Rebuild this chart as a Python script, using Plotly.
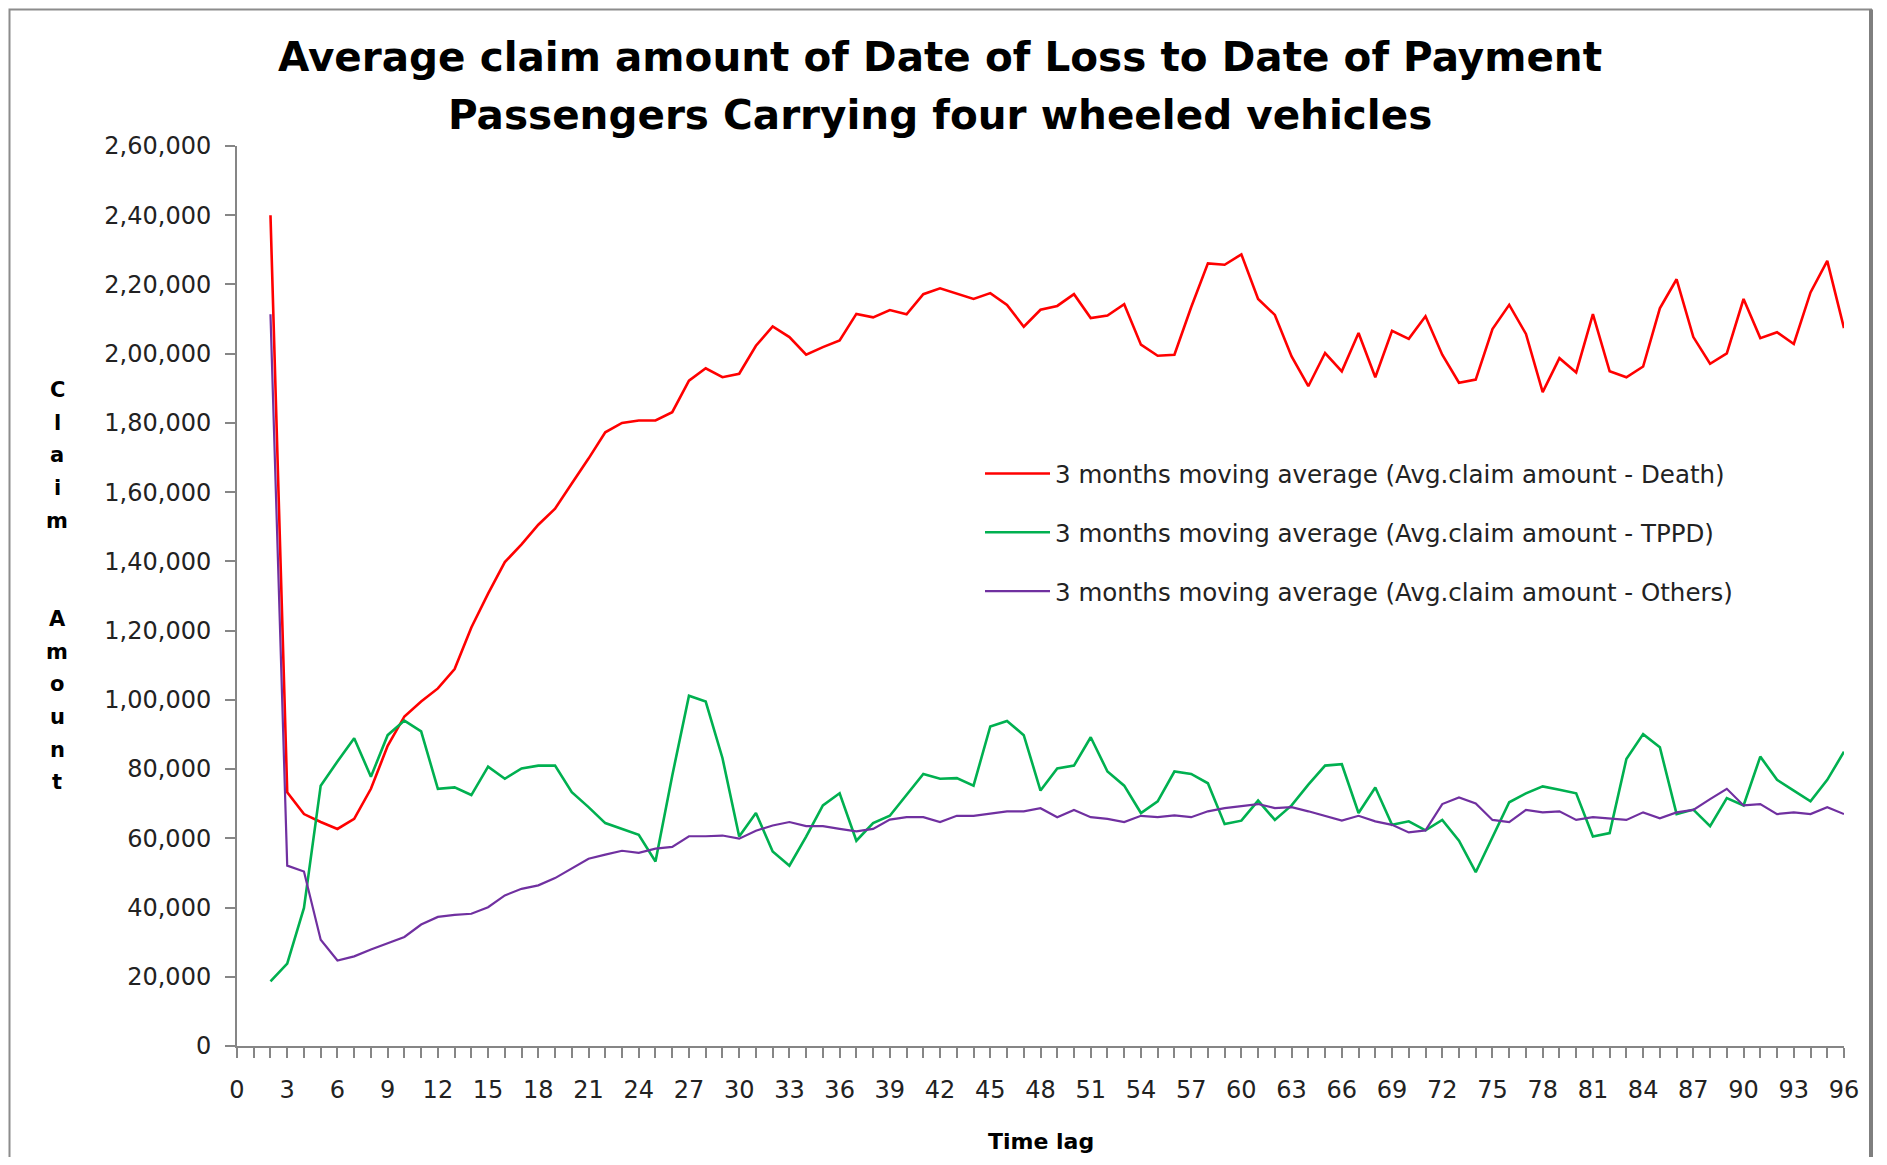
import plotly.graph_objects as go

# ---------------- data ----------------
time_lag = list(range(2, 97))

death = [240000, 73300, 67000, 64700, 62700, 65600, 74300, 86700, 95200, 99500,
         103300, 108900, 120900, 130700, 139800, 144900, 150600, 155200, 162500, 169700,
         177300, 180000, 180700, 180700, 183100, 192200, 195800, 193200, 194200, 202300,
         207900, 204800, 199700, 201900, 203800, 211500, 210500, 212600, 211400, 217200,
         218900, 217400, 215800, 217500, 214100, 207800, 212700, 213800, 217200, 210300,
         211000, 214300, 202600, 199400, 199700, 213400, 226100, 225700, 228700, 215800,
         211200, 199200, 190600, 200200, 194900, 206000, 193200, 206600, 204300, 210800,
         199700, 191600, 192500, 207100, 214100, 205700, 188900, 198700, 194600, 211400,
         194900, 193200, 196300, 213100, 221500, 204800, 197100, 200100, 215800, 204500,
         206200, 202800, 217700, 226800, 207400]

tppd = [18700, 23800, 39900, 75200, 82200, 88900, 77800, 89800, 94000, 90900,
        74300, 74700, 72500, 80700, 77200, 80200, 81000, 81000, 73300, 69000,
        64400, 62700, 61000, 53300, 78100, 101200, 99500, 83200, 60500, 67300,
        56200, 52100, 60500, 69500, 73000, 59300, 64400, 66500, 72600, 78600,
        77200, 77400, 75200, 92300, 93900, 89800, 73800, 80200, 81000, 89200,
        79300, 75200, 67300, 70700, 79300, 78600, 75900, 64100, 65100, 70900,
        65300, 69500, 75500, 81000, 81400, 67300, 74700, 63900, 64900, 62300,
        65300, 59300, 50200, 60500, 70400, 73000, 75000, 74000, 73000, 60500,
        61500, 82900, 90100, 86300, 67000, 68300, 63500, 71600, 69500, 83600,
        76900, 73800, 70700, 76900, 85000]

others = [211400, 52100, 50400, 30700, 24700, 25900, 27900, 29800, 31500, 35100,
          37300, 37900, 38200, 40100, 43500, 45400, 46400, 48500, 51200, 54100,
          55300, 56400, 55800, 57000, 57500, 60600, 60600, 60800, 59900, 62200,
          63700, 64700, 63500, 63500, 62700, 62000, 62700, 65400, 66100, 66100,
          64700, 66500, 66500, 67100, 67800, 67800, 68700, 66100, 68200, 66100,
          65600, 64700, 66500, 66100, 66600, 66100, 67800, 68700, 69400, 69900,
          68700, 69000, 67800, 66500, 65100, 66500, 64900, 63900, 61700, 62300,
          69900, 71800, 70100, 65300, 64700, 68200, 67500, 67800, 65300, 66100,
          65600, 65300, 67500, 65800, 67500, 68200, 71300, 74300, 69500, 69900,
          67000, 67500, 67000, 69000, 67000]

series_names = ["3 months moving average (Avg.claim amount - Death)",
                "3 months moving average (Avg.claim amount - TPPD)",
                "3 months moving average (Avg.claim amount - Others)"]

y_tick_values = [0, 20000, 40000, 60000, 80000, 100000, 120000, 140000,
                 160000, 180000, 200000, 220000, 240000, 260000]
y_tick_labels = ["0", "20,000", "40,000", "60,000", "80,000", "1,00,000", "1,20,000",
                 "1,40,000", "1,60,000", "1,80,000", "2,00,000", "2,20,000",
                 "2,40,000", "2,60,000"]

title_lines = ["Average claim amount of Date of Loss to Date of Payment",
               "Passengers Carrying four wheeled vehicles"]
x_title = "Time lag"
y_title = "Claim  Amount"

# ---------------- layout constants ----------------
# the page body has an 8px margin, so the figure starts at page (8, 8)
OFF = 8
W, H = 1887 - OFF, 1165 - 2 * OFF
PLOT_L, PLOT_R, PLOT_T, PLOT_B = 237, 1844, 146, 1046   # page pixel positions
ML, MT = PLOT_L - OFF, PLOT_T - OFF
MR, MB = W - (PLOT_R - OFF), H - (PLOT_B - OFF)
PW, PH = PLOT_R - PLOT_L, PLOT_B - PLOT_T


def px_x(p):
    return (p - PLOT_L) / PW


def px_y(p):
    return (PLOT_B - p) / PH


FONT = "DejaVu Sans"
colors = ["#FF0000", "#00B050", "#7030A0"]
widths = [2.6, 2.6, 2.2]

fig = go.Figure()
for name, vals, c, w in zip(series_names, [death, tppd, others], colors, widths):
    fig.add_trace(go.Scatter(x=time_lag, y=vals, mode="lines", name=name,
                             legendgroup=name,
                             line=dict(color=c, width=w)))

annotations = []
annotations.append(dict(text="<b>%s</b>" % title_lines[0], x=px_x(940), y=px_y(57),
                        xref="paper", yref="paper", showarrow=False,
                        xanchor="center", yanchor="middle",
                        font=dict(family=FONT, size=40.5, color="#000")))
annotations.append(dict(text="<b>%s</b>" % title_lines[1], x=px_x(940), y=px_y(115),
                        xref="paper", yref="paper", showarrow=False,
                        xanchor="center", yanchor="middle",
                        font=dict(family=FONT, size=40.5, color="#000")))
annotations.append(dict(text="<b>%s</b>" % x_title, x=px_x(1041), y=px_y(1141),
                        xref="paper", yref="paper", showarrow=False,
                        xanchor="center", yanchor="middle",
                        font=dict(family=FONT, size=22, color="#000")))
# stacked vertical y title
for i, ch in enumerate(y_title):
    if ch == " ":
        continue
    annotations.append(dict(text="<b>%s</b>" % ch, x=px_x(57), y=px_y(390 + i * 32.7),
                            xref="paper", yref="paper", showarrow=False,
                            xanchor="center", yanchor="middle",
                            font=dict(family=FONT, size=21, color="#000")))

BORDER_R = 1871
shapes = [
    dict(type="rect", xref="paper", yref="paper", x0=px_x(9.5), x1=px_x(BORDER_R),
         y0=px_y(1400), y1=px_y(9.5), line=dict(color="#8c8c8c", width=2)),
    dict(type="line", xref="paper", yref="paper", x0=px_x(BORDER_R), x1=px_x(BORDER_R),
         y0=px_y(1400), y1=px_y(9.5), line=dict(color="#7f7f7f", width=4)),
]

axis_color = "#868686"
fig.update_layout(
    width=W, height=H,
    margin=dict(l=ML, r=MR, t=MT, b=MB, pad=0),
    paper_bgcolor="white", plot_bgcolor="white",
    font=dict(family=FONT, size=24, color="#000"),
    showlegend=True,
    legend=dict(x=px_x(980), y=px_y(451), xanchor="left", yanchor="top",
                bgcolor="rgba(0,0,0,0)", borderwidth=0,
                traceorder="grouped", tracegroupgap=24, itemwidth=65,
                font=dict(family=FONT, size=24.5, color="#222")),
    annotations=annotations,
    shapes=shapes,
    xaxis=dict(range=[0, 96], tick0=0, dtick=3, showgrid=False, zeroline=False,
               showline=True, linecolor=axis_color, linewidth=2,
               ticks="outside", ticklen=10, tickwidth=1.5, tickcolor=axis_color,
               ticklabelstandoff=11,
               minor=dict(dtick=1, ticks="outside", ticklen=10, tickwidth=1.5,
                          tickcolor=axis_color, showgrid=False),
               tickfont=dict(family=FONT, size=24, color="#222")),
    yaxis=dict(range=[0, 260000], tickvals=y_tick_values, ticktext=y_tick_labels,
               showgrid=False, zeroline=False,
               showline=True, linecolor=axis_color, linewidth=2,
               ticks="outside", ticklen=10, tickwidth=1.5, tickcolor=axis_color,
               ticklabelstandoff=9,
               tickfont=dict(family=FONT, size=24, color="#222")),
)

fig.write_html("out.html")
